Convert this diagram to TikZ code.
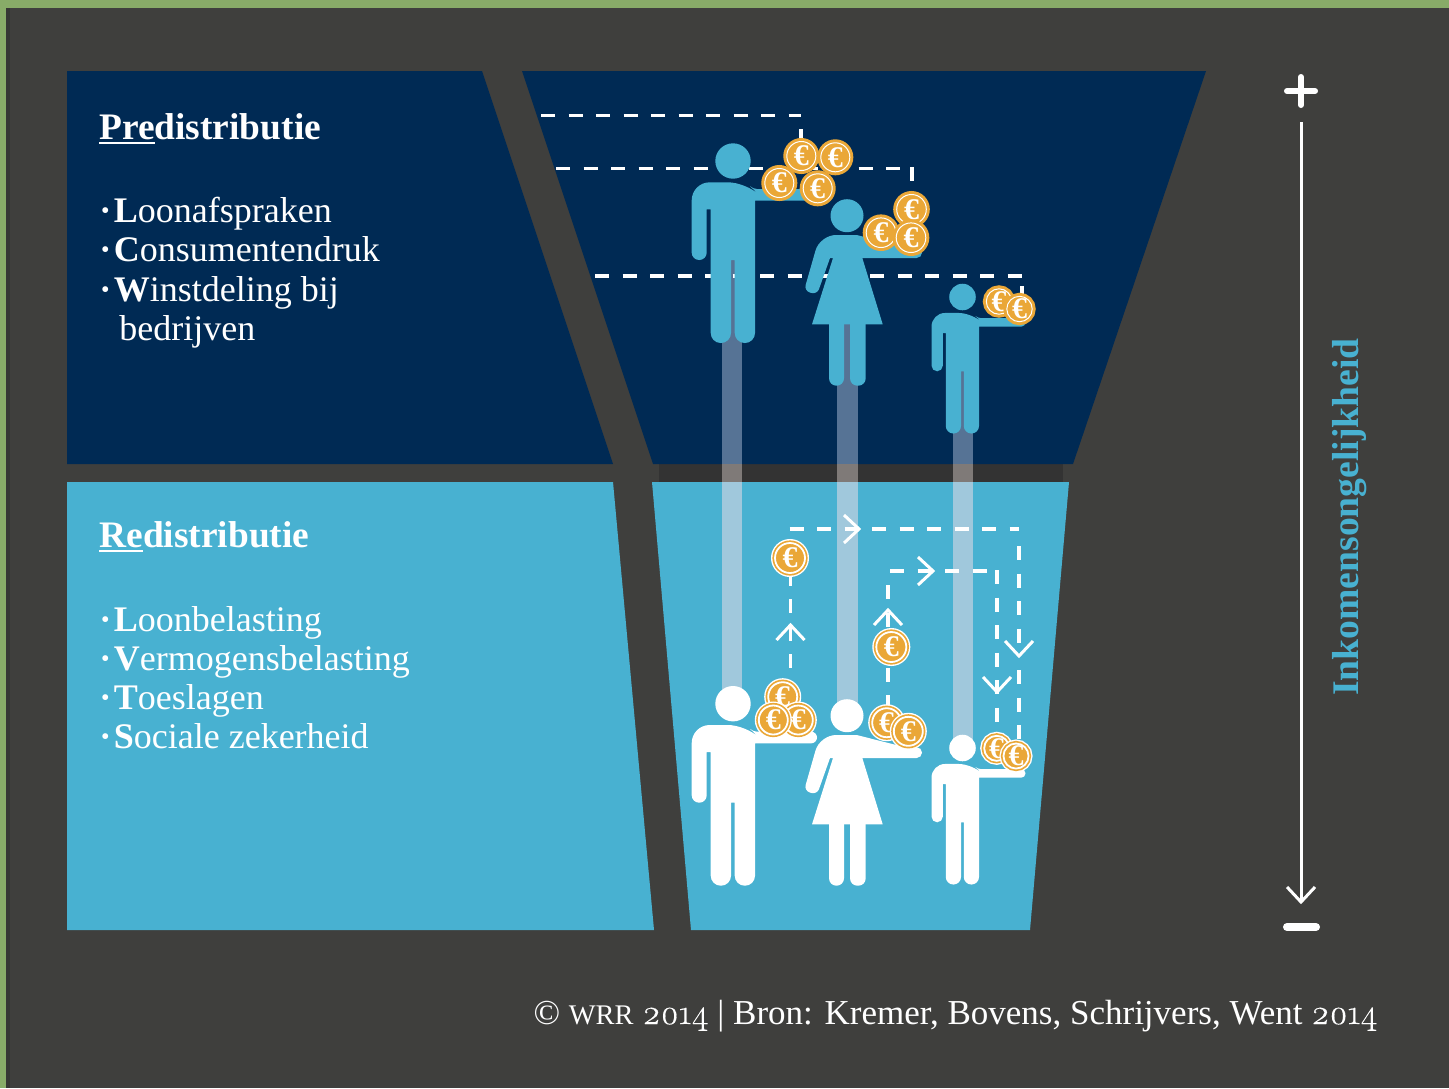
\documentclass[tikz,border=0pt]{standalone}
\usepackage{fontspec}
\newfontfamily\lexfont{Liberation Serif}
\newfontfamily\yearfont[Numbers=OldStyle,FakeBold=.4]{Latin Modern Roman}

\definecolor{framegreen}{HTML}{88AB68}
\definecolor{slate}{HTML}{3F3F3D}
\definecolor{navy}{HTML}{002A54}
\definecolor{sky}{HTML}{48B1D1}
\definecolor{gold}{HTML}{EAA737}

\newcommand{\firstpart}[1]{\setbox0\hbox{#1}\rlap{\rule[-2.6pt]{\wd0}{1pt}}\box0}
\newcommand{\headfont}{\lexfont\bfseries\fontsize{18.7}{20}\selectfont}
\newcommand{\itemfont}{\lexfont\fontsize{18}{19.6}\selectfont}
\newcommand{\dotmark}{\textbf{\textperiodcentered}\hspace{1.2pt}}
\newcommand{\oldyear}{{\yearfont 2014}}

\tikzset{
	caption/.style={anchor=base west, inner sep=0pt, text=white},
	coin/.style={circle, inner sep=0pt, outer sep=0pt, minimum size=#1, fill=gold, draw=gold, double=white, double distance=.5pt, line width=1.5pt, text=white, font=\lexfont\bfseries\fontsize{15}{15}\selectfont},
	paid/.style={coin=#1, double distance=.9pt, line width=.85pt, preaction={draw=white, line width=4pt}},
	flow/.style={white, line width=1.6pt, dash pattern=on 7pt off 6.75pt},
	chevron/.pic={\draw [white, line width=1.5pt] (-15,-14) -- (0,0) -- (-15,14);},
	man/.pic={
		\fill[pic actions] (0,0) circle[radius=17.7];
		\fill[pic actions] (-26.3,48.3) [rounded corners=\ps*3.7pt] -- (-26.3,99) -- (-41.3,99) [rounded corners=\ps*9pt] -- (-41.3,21.3) -- (13,21.3) [rounded corners=\ps*2pt] -- (20,28) [rounded corners=\ps*2.9pt] -- (84,28) -- (84,39.6) [sharp corners] -- (22,39.6) [rounded corners=\ps*5pt] -- (22,182) -- (1.7,182) [sharp corners] -- (1.7,99) -- (-2,99) [rounded corners=\ps*5pt] -- (-2,182) -- (-22.3,182) [sharp corners] -- (-22.3,48.3) -- cycle;
	},
	woman/.pic={
		\fill[pic actions] (0,0) circle[radius=16.5];
		\fill[pic actions] (-14,42.3) -- (-35,108.6) -- (35.7,108.6) -- (15.3,42.3) [rounded corners=2.7pt] -- (75,42.3) -- (75,31.5) [sharp corners] -- (58,31.5) -- (9.7,19.3) [rounded corners=8pt] -- (-27,19.3) [sharp corners] -- (-33,40) [rounded corners=3pt] -- (-43,75) -- (-30,79) [sharp corners] -- (-17,42.3) -- cycle;
		\fill[pic actions] (-18,100) [rounded corners=3.7pt] -- (-18,170) -- (-3,170) [sharp corners] -- (-3,100) -- cycle;
		\fill[pic actions] (3,100) [rounded corners=3.7pt] -- (3,170) -- (18.7,170) [sharp corners] -- (18.7,100) -- cycle;
	},
}

\begin{document}
\begin{tikzpicture}[x=.5pt, y=-.5pt]
	\useasboundingbox (0,0) rectangle (1449,1088);

	% Backdrop {frame, slate, panels}
	\fill [framegreen] (0,0) rectangle (1449,1088);
	\fill [slate] (6,8) rectangle (1449,1088);
	\fill [slate!85!black] (6,8) rectangle (10,1088);
	\fill [black!80] (659,464) rectangle (1063,482);
	\fill [navy] (67,71) -- (482,71) -- (613,464) -- (67,464) -- cycle;
	\fill [navy] (522,71) -- (1206,71) -- (1073,464) -- (653,464) -- cycle;
	\fill [sky] (67,482) -- (613,482) -- (654,930) -- (67,930) -- cycle;
	\fill [sky] (652,482) -- (1069,482) -- (1030,930) -- (691,930) -- cycle;

	% Columns {top, gap, bottom}
	\foreach \cx/\ctop/\cbot in {721.5/255/700, 837/320/710, 952.7/365/750} {
		\fill [color={rgb,255:red,86;green,115;blue,149}] (\cx,\ctop) rectangle (\cx+20.6,464);
		\fill [color={rgb,255:red,127;green,122;blue,120}] (\cx,464) rectangle (\cx+20.6,482);
		\fill [color={rgb,255:red,160;green,200;blue,220}] (\cx,482) rectangle (\cx+20.6,\cbot);
	}

	% Ends and corners of the dashed lines
	\coordinate (ta0) at (541,115.5);
	\coordinate (ta1) at (801,115.5);
	\coordinate (ta2) at (801,129);
	\coordinate (ta3) at (801,150);
	\coordinate (tb0) at (556,168.5);
	\coordinate (tb1) at (912,168.5);
	\coordinate (tb2) at (912,167);
	\coordinate (tb3) at (912,195);
	\coordinate (tc0) at (595,276);
	\coordinate (tc1) at (1022,276);
	\coordinate (tc2) at (1022,286);
	\coordinate (tc3) at (1022,300);
	\coordinate (la0) at (790.5,668);
	\coordinate (la1) at (790.5,558);
	\coordinate (la2) at (789.5,529);
	\coordinate (la3) at (1019,529);
	\coordinate (la4) at (1019,546);
	\coordinate (la5) at (1019,656);
	\coordinate (la6) at (1019,670);
	\coordinate (la7) at (1019,745);
	\coordinate (lb0) at (888,709);
	\coordinate (lb1) at (888,584);
	\coordinate (lb2) at (890,571);
	\coordinate (lb3) at (997,571);
	\coordinate (lb4) at (997,570);
	\coordinate (lb5) at (997,730);

	% Paths
	\draw [flow] (ta0) -- (ta1);
	\draw [flow] (ta2) -- (ta3);
	\draw [flow] (tb0) -- (tb1);
	\draw [flow] (tb2) -- (tb3);
	\draw [flow] (tc0) -- (tc1);
	\draw [flow] (tc2) -- (tc3);
	\draw [flow] (la0) -- (la1);
	\draw [flow] (la2) -- (la3);
	\draw [flow] (la4) -- (la5);
	\draw [flow] (la6) -- (la7);
	\draw [flow] (lb0) -- (lb1);
	\draw [flow] (lb2) -- (lb3);
	\draw [flow] (lb4) -- (lb5);

	% Chevrons
	\foreach \x/\y/\turn in {790.5/625/90, 859/529/0, 1019/656/-90, 888/610/90, 933/571/0, 997/692/-90, 1301/902/-90}
		\pic [rotate=\turn] at (\x,\y) {chevron};

	% People
	\foreach \px/\py/\ps/\pc in {733/161/1/sky, 962.5/297/.75/sky, 733/703.7/1/white, 962.5/748/.75/white}
		\pic [scale=\ps, fill=\pc] at (\px,\py) {man};
	\foreach \px/\py/\ps/\pc in {847/215.7/1/sky, 847/715.7/1/white}
		\pic [scale=\ps, fill=\pc] at (\px,\py) {woman};

	% Coins
	\foreach \n/\x/\y/\s in {a/835.3/157.3/14.5, b/801.3/156/14.5, c/779.3/183/14.5, d/817.7/188.3/14.5, e/911.5/209.3/14.8, f/881/232.7/14.8, g/911/237.7/14.8, h/999/301.5/12.7, i/1019.5/309/12.7}
		\node [coin=\s pt] (coin\n) at (\x,\y) {€};
	\foreach \n/\x/\y/\s in {j/782.7/696.7/14.5, k/798.3/720/14.5, l/773.3/720/14.5, m/886.7/722.7/14.5, o/908.3/731.3/14.5, p/996.7/748.3/12.5, q/1016/756/12.5, r/790/558/15, s/891.3/647/15}
		\node [paid=\s pt] (coin\n) at (\x,\y) {€};

	% Texts
	\node [caption] (title1) at (99,139) {\headfont\firstpart{Pre}distributie};
	\node [caption] (item1) at (99,222) {\itemfont\dotmark\textbf{L}oonafspraken};
	\node [caption] (item2) at (99,261) {\itemfont\dotmark\textbf{C}onsumentendruk};
	\node [caption] (item3) at (99,301) {\itemfont\dotmark\textbf{W}instdeling bij};
	\node [caption] (item4) at (119,340) {\itemfont bedrijven};
	\node [caption] (title2) at (99,547) {\headfont\firstpart{Re}distributie};
	\node [caption] (item5) at (99,631) {\itemfont\dotmark\textbf{L}oonbelasting};
	\node [caption] (item6) at (99,670) {\itemfont\dotmark\textbf{V}ermogensbelasting};
	\node [caption] (item7) at (99,709) {\itemfont\dotmark\textbf{T}oeslagen};
	\node [caption] (item8) at (99,748) {\itemfont\dotmark\textbf{S}ociale zekerheid};
	\node [caption, anchor=base east] (source) at (1378,1024) {\lexfont\fontsize{17.5}{19.6}\selectfont © {\fontsize{14.2}{16}\selectfont WRR} \oldyear{} | Bron: Kremer, Bovens, Schrijvers, Went \oldyear};
	\node [caption, anchor=base, text=sky, rotate=90] (rangelabel) at (1358,517) {\headfont\fontsize{18.8}{20}\selectfont Inkomensongelijkheid};

	% Scale
	\coordinate (rangetop) at (1301,122);
	\coordinate (rangeend) at (1301,902);
	\draw [white, line width=3pt, line cap=round] (1287,91) -- (1315,91);
	\draw [white, line width=3pt, line cap=round] (1301,77) -- (1301,105);
	\draw [white, line width=4pt, line cap=round] (1287,927) -- (1316,927);
	\draw [white, line width=1.5pt] (rangetop) -- (rangeend);
\end{tikzpicture}
\end{document}
